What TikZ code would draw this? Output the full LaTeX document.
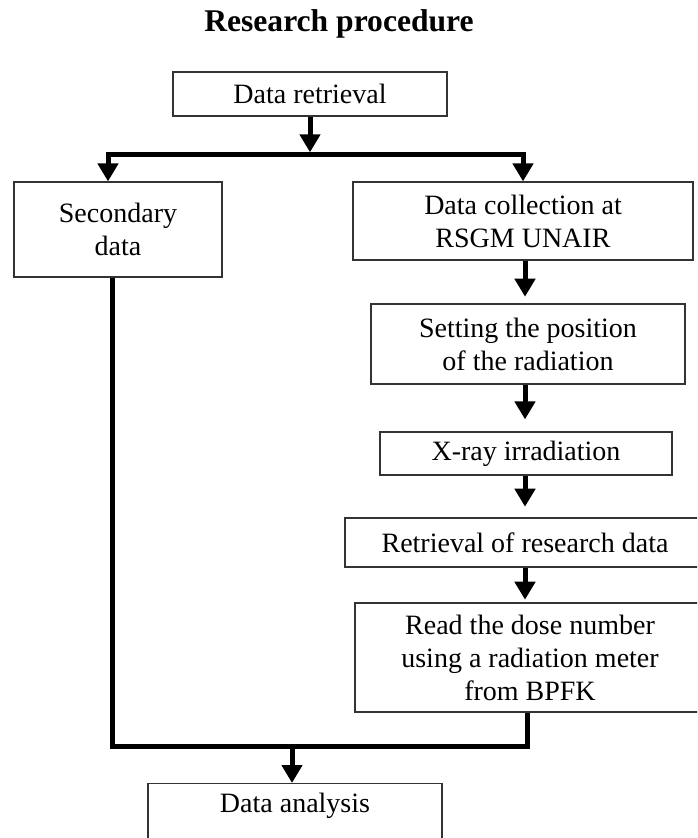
\documentclass[tikz,border=0pt]{standalone}
\usepackage{fontspec}
\setmainfont{Liberation Serif}
\usepackage{tikz}
\usetikzlibrary{arrows.meta,positioning}

\begin{document}
\begin{tikzpicture}[
    x=0.75pt, y=-0.75pt,
    box/.style={rectangle, draw=black!80, line width=0.9pt, inner sep=2pt, align=center,
        font=\fontsize{21}{24.75}\selectfont},
    line/.style={line width=3.75pt},
    arrow/.style={line, -{Triangle[width=15pt,length=13.5pt]}},
    fork/.style={line, {Triangle[width=15pt,length=13.5pt]}-{Triangle[width=15pt,length=13.5pt]}}
]
\useasboundingbox (0,0) rectangle (697,838);
\clip (0,0) rectangle (697,838);

\node[font=\fontsize{23.7}{28}\selectfont\bfseries, anchor=base] (title) at (339,32) {Research procedure};

\node[box, minimum width=205.5pt, minimum height=33pt] (retr) at (310,94) {Data retrieval};
\node[box, minimum width=156pt, minimum height=71.25pt] (sec) at (118,229.5) {Secondary\\data};
\node[box, minimum width=255pt, minimum height=58.5pt] (coll) at (523,221) {Data collection at\\RSGM UNAIR};
\node[box, minimum width=235.5pt, minimum height=60pt] (pos) at (528,344) {Setting the position\\of the radiation};
\node[box, minimum width=219pt, minimum height=32.25pt] (xray) at (526,453.5) {X-ray irradiation};
\node[box, minimum width=270pt, minimum height=36.75pt] (rdata) at (525,542.5) {Retrieval of research data};
\node[box, minimum width=262.5pt, minimum height=81.75pt] (dose) at (530,657.5) {Read the dose number\\using a radiation meter\\from BPFK};
\node[box, minimum width=220.5pt, anchor=north, text height=20pt, text depth=40pt] (ana) at (295,783) {Data analysis};

% junction points
\coordinate (split) at (310,155);
\coordinate (join) at (292,746);
\coordinate (lft) at (108,0);
\coordinate (botl) at (112,0);
\coordinate (botr) at (527,0);
\coordinate (spine) at (525,0);

\draw[arrow, shorten >=2pt] (retr.south -| split) -- (split);
\draw[fork] (sec.north -| lft) |- (split) -| (coll.north);

\draw[arrow, shorten >=5pt] (coll.south -| spine) -- (pos.north -| spine);
\draw[arrow, shorten >=9pt] (pos.south -| spine) -- (xray.north -| spine);
\draw[arrow, shorten >=8pt] (xray.south -| spine) -- (rdata.north -| spine);
\draw[arrow, shorten >=2pt] (rdata.south -| spine) -- (dose.north -| spine);

\draw[line] (sec.south -| botl) |- (join) -| (dose.south -| botr);
\draw[arrow] (join) -- (ana.north -| join);
\end{tikzpicture}
\end{document}
